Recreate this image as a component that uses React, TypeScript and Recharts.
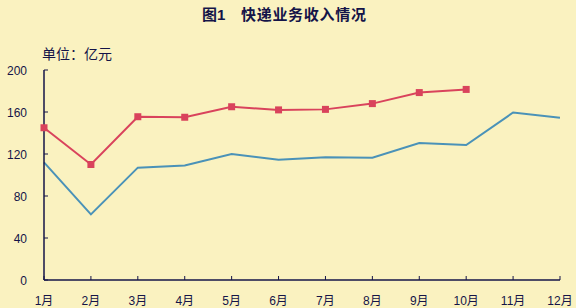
import React from "react";
import { LineChart, Line, XAxis, YAxis } from "recharts";

const months = ["1月", "2月", "3月", "4月", "5月", "6月", "7月", "8月", "9月", "10月", "11月", "12月"];
const seriesCurrent: (number | null)[] = [145, 110, 155.5, 155, 165, 162, 162.5, 168, 178.5, 181.5, null, null];
const seriesPrevious: number[] = [112, 62.5, 107, 109, 120, 114.5, 117, 116.5, 130.5, 128.5, 159.5, 154.5];
const yTicks = [0, 40, 80, 120, 160, 200];

const data = months.map((m, i) => ({ month: m, cur: seriesCurrent[i], prev: seriesPrevious[i] }));

const AXIS = "#141448";
const FONT = '"Liberation Sans", "Noto Sans CJK SC", sans-serif';

const XTick = (props: any) => {
  const { x, y, payload } = props;
  return (
    <g>
      <line x1={x} x2={x} y1={y} y2={y - 4} stroke={AXIS} strokeWidth={1} />
      <text x={x} y={y + 25} textAnchor="middle" fill={AXIS} fontSize={12} fontFamily={FONT}>
        {payload.value}
      </text>
    </g>
  );
};

const YTick = (props: any) => {
  const { x, y, payload } = props;
  return (
    <g>
      <line x1={x} x2={x + 4} y1={y} y2={y} stroke={AXIS} strokeWidth={1} />
      <text x={x - 17} y={y + 4.5} textAnchor="end" fill={AXIS} fontSize={12} fontFamily={FONT}>
        {payload.value}
      </text>
    </g>
  );
};

const SquareDot = (props: any) => {
  const { cx, cy, index } = props;
  if (cx == null || cy == null || props.value == null) return <g key={`d${index}`} />;
  return <rect key={`d${index}`} x={cx - 3.5} y={cy - 3.5} width={7} height={7} fill="#D9435C" />;
};

export default function App() {
  return (
    <div style={{ position: "absolute", left: 0, top: 0, width: 576, height: 308, background: "#FAF2C0", overflow: "hidden" }}>
      <div style={{ position: "absolute", left: 202, top: 4, fontFamily: FONT, fontSize: 15, fontWeight: "bold", color: AXIS, whiteSpace: "pre", lineHeight: "22px" }}>
        <span>图1</span>
        <span style={{ position: "absolute", left: 39, top: 0, fontWeight: 600, letterSpacing: 0.7 }}>快递业务收入情况</span>
      </div>
      <div style={{ position: "absolute", left: 42, top: 44, fontFamily: FONT, fontSize: 14, color: AXIS, lineHeight: "20px", whiteSpace: "pre" }}>
        单位：亿元
      </div>
      <div style={{ position: "absolute", left: 0, top: 0 }}>
        <LineChart width={576} height={308} data={data} margin={{ top: 70, right: 16, bottom: 27, left: 43 }}>
          <XAxis
            dataKey="month"
            height={1}
            tickSize={0}
            tickMargin={0}
            tick={<XTick />}
            axisLine={{ stroke: AXIS, strokeWidth: 1.5 }}
            tickLine={false}
            interval={0}
            padding={{ left: 0, right: 0 }}
          />
          <YAxis
            width={1}
            domain={[0, 200]}
            ticks={yTicks}
            tickSize={0}
            tickMargin={0}
            tick={<YTick />}
            axisLine={{ stroke: AXIS, strokeWidth: 1.5 }}
            tickLine={false}
            interval={0}
          />
          <Line
            dataKey="prev"
            stroke="#4A92B8"
            strokeWidth={2}
            dot={false}
            isAnimationActive={false}
          />
          <Line
            dataKey="cur"
            stroke="#D9435C"
            strokeWidth={2}
            dot={<SquareDot />}
            activeDot={false}
            connectNulls={false}
            isAnimationActive={false}
          />
        </LineChart>
      </div>
    </div>
  );
}
